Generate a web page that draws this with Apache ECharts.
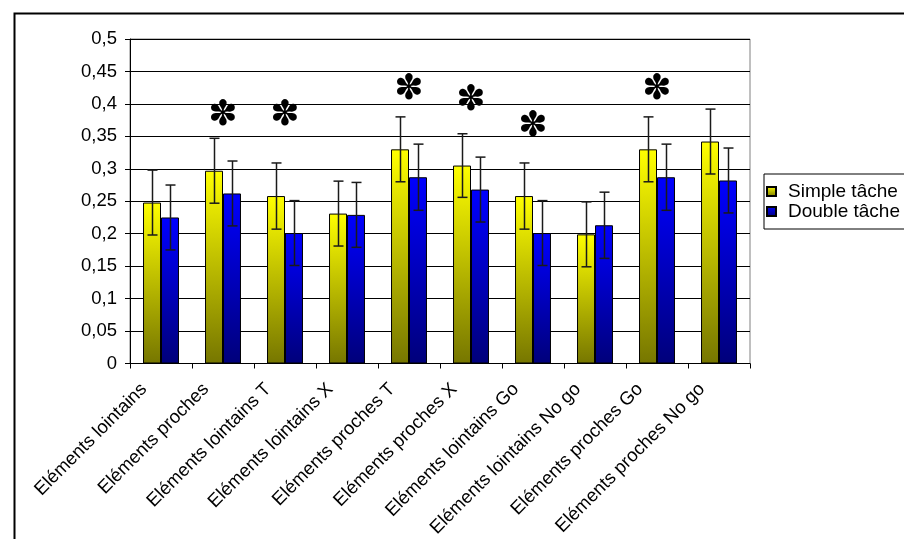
<!DOCTYPE html>
<html>
<head>
<meta charset="utf-8">
<script src="https://cdn.jsdelivr.net/npm/echarts@6/dist/echarts.min.js"></script>
<style>
  html, body { margin: 0; padding: 0; background: #fff; }
  #chart { width: 904px; height: 539px; }
</style>
</head>
<body>
<div id="chart"></div>
<script>
// catégories
const categories = [
  'Eléments lointains', 'Eléments proches', 'Eléments lointains T', 'Eléments lointains X',
  'Eléments proches T', 'Eléments proches X', 'Eléments lointains Go', 'Eléments lointains No go',
  'Eléments proches Go', 'Eléments proches No go'
]
// moyennes
const simpleValues = [0.248, 0.297, 0.258, 0.231, 0.330, 0.305, 0.258, 0.199, 0.330, 0.342]
const doubleValues = [0.225, 0.262, 0.201, 0.229, 0.287, 0.268, 0.201, 0.213, 0.287, 0.282]
// barres d'erreur (+/-)
const simpleErrors = [0.050, 0.050, 0.051, 0.050, 0.050, 0.049, 0.051, 0.050, 0.050, 0.050]
const doubleErrors = [0.050, 0.050, 0.050, 0.050, 0.051, 0.050, 0.050, 0.051, 0.051, 0.050]
const starCats = [0.97, 1.87, 3.87, 4.9, 6.11, 7.97]
const starValues = [0.382, 0.382, 0.422, 0.405, 0.365, 0.422]
const yTicks = [0, 0.05, 0.1, 0.15, 0.2, 0.25, 0.3, 0.35, 0.4, 0.45, 0.5]

const CAT_GAP = 0.42

const yellowFill = new echarts.graphic.LinearGradient(0, 0, 0, 1, [
  { offset: 0, color: '#ffff00' },
  { offset: 1, color: '#767600' }
])
const blueFill = new echarts.graphic.LinearGradient(0, 0, 0, 1, [
  { offset: 0, color: '#0000ff' },
  { offset: 1, color: '#00007a' }
])

// données des barres d'erreur : [catégorie, bas, haut, série]
const errData = []
simpleValues.forEach((v, i) => errData.push([i, v - simpleErrors[i], v + simpleErrors[i], 0]))
doubleValues.forEach((v, i) => errData.push([i, v - doubleErrors[i], v + doubleErrors[i], 1]))

const chart = echarts.init(document.getElementById('chart'), null, { renderer: 'canvas' })

const option = {
  animation: false,
  textStyle: { fontFamily: 'Liberation Sans, Arial, sans-serif' },
  graphic: [
    {
      type: 'rect',
      left: 12,
      top: 11,
      shape: { width: 1000, height: 1000 },
      style: { fill: 'none', stroke: '#000', lineWidth: 2 },
      silent: true
    }
  ],
  legend: {
    orient: 'vertical',
    left: 764,
    top: 174,
    padding: [8, 40, 8, 2],
    itemGap: 1,
    itemWidth: 9,
    itemHeight: 9,
    icon: 'rect',
    borderColor: '#000',
    borderWidth: 1,
    textStyle: { fontSize: 19, color: '#000', padding: [0, 0, 0, 7] },
    data: ['Simple tâche', 'Double tâche']
  },
  grid: {
    left: 130,
    right: 154,
    top: 39,
    bottom: 175.5,
    outerBoundsMode: 'none',
    show: true,
    borderColor: '#808080',
    borderWidth: 1
  },
  xAxis: {
    type: 'category',
    data: categories,
    axisLine: { lineStyle: { color: '#000', width: 1 } },
    axisTick: { show: true, length: 5, lineStyle: { color: '#000' } },
    axisLabel: {
      interval: 0,
      rotate: 45,
      fontSize: 18.5,
      color: '#000',
      margin: 6,
      padding: [0, 24, 0, 0]
    }
  },
  yAxis: {
    type: 'value',
    min: yTicks[0],
    max: yTicks[yTicks.length - 1],
    interval: 0.05,
    axisLine: { show: true, lineStyle: { color: '#000', width: 1 } },
    axisTick: { show: true, length: 5, lineStyle: { color: '#000' } },
    splitLine: { lineStyle: { color: '#000', width: 1 } },
    axisLabel: {
      fontSize: 18.5,
      color: '#000',
      margin: 13,
      formatter: v => String(+v.toFixed(2)).replace('.', ',')
    }
  },
  series: [
    {
      name: 'Simple tâche',
      type: 'bar',
      data: simpleValues,
      barGap: '0%',
      barCategoryGap: (CAT_GAP * 100) + '%',
      itemStyle: { color: yellowFill, borderColor: '#000', borderWidth: 1 }
    },
    {
      name: 'Double tâche',
      type: 'bar',
      data: doubleValues,
      barGap: '0%',
      barCategoryGap: (CAT_GAP * 100) + '%',
      itemStyle: { color: blueFill, borderColor: '#000', borderWidth: 1 }
    },
    {
      // barres d'erreur
      type: 'custom',
      data: errData,
      z: 5,
      silent: true,
      renderItem: (params, api) => {
        const band = api.size([1, 0])[0]
        const barW = band * (1 - CAT_GAP) / 2
        const c = api.coord([api.value(0), 0])
        const x = Math.round(c[0] + (api.value(3) === 0 ? -barW / 2 : barW / 2)) + 0.5
        const low = api.coord([api.value(0), api.value(1)])[1]
        const high = api.coord([api.value(0), api.value(2)])[1]
        const cap = 5
        const style = { stroke: '#1a1a1a', lineWidth: 1.5 }
        return {
          type: 'group',
          children: [
            { type: 'line', shape: { x1: x, y1: low, x2: x, y2: high }, style },
            { type: 'line', shape: { x1: x - cap, y1: high, x2: x + cap, y2: high }, style },
            { type: 'line', shape: { x1: x - cap, y1: low, x2: x + cap, y2: low }, style }
          ]
        }
      }
    },
    {
      // astérisques
      type: 'custom',
      data: starCats.map((c, i) => [c, starValues[i]]),
      z: 6,
      silent: true,
      renderItem: (params, api) => {
        const p = api.coord([api.value(0), api.value(1)])
        return {
          type: 'text',
          x: p[0],
          y: p[1],
          style: {
            text: '\u273D',
            fontSize: 35,
            fontFamily: 'DejaVu Sans',
            fill: '#000',
            align: 'center',
            verticalAlign: 'middle'
          }
        }
      }
    }
  ]
}

chart.setOption(option)
</script>
</body>
</html>
